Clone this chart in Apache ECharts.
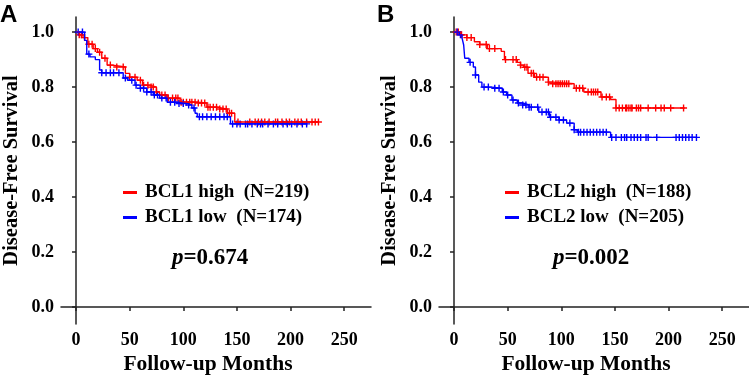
<!DOCTYPE html>
<html>
<head>
<meta charset="utf-8">
<script src="https://cdn.jsdelivr.net/npm/echarts@6/dist/echarts.min.js"></script>
<style>
  html, body { margin: 0; padding: 0; background: #fff; }
  #km { width: 749px; height: 377px; }
</style>
</head>
<body>
<div id="km"></div>
<script>
  // KM step points [month, survival after the drop]
  var bcl1High = [[0, 1], [3, 0.99], [6.5, 0.98], [11, 0.956], [16, 0.94], [20, 0.927], [24, 0.905], [29, 0.88], [34, 0.873],
    [46, 0.85], [50, 0.836], [57, 0.825], [62, 0.807], [69, 0.8], [75, 0.782], [78, 0.771], [85, 0.76], [97, 0.745],
    [113, 0.742], [122, 0.727], [132, 0.72], [141, 0.705], [148, 0.673], [226, 0.673]];
  var bcl1Low = [[0, 1], [8, 0.97], [10, 0.92], [13, 0.91], [18, 0.9], [22, 0.862], [24, 0.852], [44, 0.833], [48, 0.825],
    [55, 0.807], [60, 0.796], [66, 0.782], [72, 0.771], [78, 0.76], [85, 0.745], [94, 0.74], [104, 0.735], [108, 0.724],
    [111, 0.705], [113, 0.692], [144, 0.666], [215, 0.666]];
  var bcl2High = [[0, 1], [6, 0.99], [12, 0.98], [19, 0.965], [24, 0.955], [31, 0.94], [44, 0.93], [47, 0.9], [59, 0.89],
    [62, 0.88], [65, 0.872], [69, 0.85], [75, 0.836], [88, 0.818], [92, 0.812], [112, 0.796], [121, 0.782], [137, 0.764],
    [146, 0.755], [151, 0.724], [215, 0.724]];
  var bcl2Low = [[0, 1], [5, 0.99], [7.5, 0.978], [9, 0.953], [10, 0.905], [14, 0.89], [18, 0.873], [20, 0.844], [23, 0.818],
    [26, 0.8], [35, 0.796], [45, 0.782], [49, 0.771], [54, 0.753], [59, 0.742], [64, 0.735], [70, 0.727], [79, 0.709],
    [89, 0.69], [98, 0.68], [105, 0.669], [112, 0.645], [115, 0.636], [146, 0.617], [226, 0.617]];

  // censoring times (months)
  var bcl1HighCens = [3, 5, 8, 12, 15, 18, 22, 27, 32, 38, 44, 50, 55, 60, 63, 67, 70, 72, 75, 80, 83, 86, 90, 93, 95, 98, 100,
    103, 106, 108, 111, 114, 117, 120, 123, 125, 128, 131, 134, 137, 140, 143, 145, 151, 162, 167, 170, 173, 176, 180, 186,
    188, 192, 196, 199, 204, 207, 210, 215, 220, 223, 226];
  var bcl1LowCens = [2, 6, 12, 24, 28, 32, 35, 40, 46, 52, 56, 60, 63, 66, 70, 73, 76, 80, 84, 88, 92, 96, 100, 105, 110, 115,
    118, 122, 126, 130, 134, 138, 141, 146, 150, 153, 158, 160, 164, 169, 172, 174, 179, 184, 188, 193, 197, 201, 206, 211, 215];
  var bcl2HighCens = [2, 4, 7, 12, 16, 24, 30, 33, 38, 48, 55, 58, 62, 66, 68, 72, 74, 77, 80, 83, 88, 92, 95, 97, 99, 101, 103,
    105, 107, 114, 117, 120, 125, 128, 130, 132, 134, 138, 142, 145, 151, 154, 157, 160, 161, 163, 165, 166, 170, 172, 174,
    181, 188, 193, 196, 202, 214];
  var bcl2LowCens = [3, 6, 15, 20, 28, 32, 38, 42, 46, 50, 55, 60, 64, 67, 70, 72, 78, 82, 86, 88, 90, 95, 98, 102, 108, 112,
    116, 118, 121, 124, 127, 130, 133, 136, 139, 142, 147, 151, 156, 159, 161, 165, 168, 171, 174, 179, 181, 189, 207, 210,
    213, 216, 219, 222, 226];

  var xTicks = [0, 50, 100, 150, 200, 250];
  var yTicks = [0, 0.2, 0.4, 0.6, 0.8, 1.0];
  var groupNames = [['BCL1 high  (N=219)', 'BCL1 low  (N=174)'], ['BCL2 high  (N=188)', 'BCL2 low  (N=205)']];
  var pValues = ['0.674', '0.002'];

  var serif = 'Liberation Serif, Times New Roman, serif';
  var RED = '#ff0000';
  var BLUE = '#0000ff';
  var PLUS = 'path://M2,0h1v2h2v1h-2v2h-1v-2h-2v-1h2z';

  // survival at time t from the step points
  function survAt(steps, t) {
    var s = 1;
    steps.forEach(function (p) {
      if (p[0] <= t) s = p[1];
    });
    return s;
  }

  function lineSeries(name, steps, color, idx) {
    return {
      name: name,
      type: 'line',
      step: 'end',
      xAxisIndex: idx,
      yAxisIndex: idx,
      symbol: 'none',
      data: steps,
      lineStyle: { color: color, width: 1.4 },
      itemStyle: { color: color },
      animation: false
    };
  }

  function censSeries(steps, cens, color, idx) {
    return {
      type: 'scatter',
      xAxisIndex: idx,
      yAxisIndex: idx,
      symbol: PLUS,
      symbolSize: 7,
      data: cens.map(function (t) { return [t, survAt(steps, t)]; }),
      itemStyle: { color: color, opacity: 1 },
      silent: true,
      animation: false
    };
  }

  function xAxis(idx) {
    return {
      gridIndex: idx,
      type: 'value',
      min: -14,
      max: 275,
      name: 'Follow-up Months',
      nameLocation: 'middle',
      nameGap: 29,
      nameTextStyle: { fontFamily: serif, fontWeight: 'bold', fontSize: 21.5, color: '#000', padding: [0, 16, 0, 0] },
      axisLine: { lineStyle: { color: '#222', width: 1.5 } },
      axisTick: { customValues: xTicks, length: 4, lineStyle: { color: '#222', width: 1.5 } },
      axisLabel: { customValues: xTicks, margin: 7, fontFamily: serif, fontWeight: 'bold', fontSize: 18, color: '#000' },
      splitLine: { show: false }
    };
  }

  function yAxis(idx) {
    return {
      gridIndex: idx,
      type: 'value',
      min: -0.062,
      max: 1.055,
      name: 'Disease-Free Survival',
      nameLocation: 'middle',
      nameGap: 39,
      nameTextStyle: { fontFamily: serif, fontWeight: 'bold', fontSize: 20.5, color: '#000' },
      axisLine: { show: true, lineStyle: { color: '#222', width: 1.5 } },
      axisTick: { show: true, customValues: yTicks, length: 4, lineStyle: { color: '#222', width: 1.5 } },
      axisLabel: {
        customValues: yTicks, margin: 7, fontFamily: serif, fontWeight: 'bold', fontSize: 18, color: '#000',
        formatter: function (v) { return v.toFixed(1); }
      },
      splitLine: { show: false }
    };
  }

  function legend(idx, left) {
    return {
      data: groupNames[idx],
      left: left,
      top: 178,
      orient: 'vertical',
      icon: 'rect',
      itemWidth: 14,
      itemHeight: 3,
      itemGap: 6,
      selectedMode: false,
      textStyle: { fontFamily: serif, fontWeight: 'bold', fontSize: 19, color: '#000', padding: [0, 0, 0, 3] }
    };
  }

  function pText(idx, left) {
    return {
      type: 'text',
      left: left,
      top: 247,
      style: {
        text: '{i|p}{n|=' + pValues[idx] + '}',
        rich: {
          i: { fontFamily: serif, fontStyle: 'italic', fontWeight: 'bold', fontSize: 23, fill: '#000' },
          n: { fontFamily: serif, fontWeight: 'bold', fontSize: 23, fill: '#000' }
        }
      }
    };
  }

  var chart = echarts.init(document.getElementById('km'));
  var option = {
    backgroundColor: '#fff',
    animation: false,
    grid: [
      { left: 61, top: 17, width: 310, height: 307, outerBoundsMode: 'none' },
      { left: 439, top: 17, width: 310, height: 307, outerBoundsMode: 'none' }
    ],
    xAxis: [xAxis(0), xAxis(1)],
    yAxis: [yAxis(0), yAxis(1)],
    legend: [legend(0, 118), legend(1, 500)],
    graphic: [
      { type: 'text', left: 0, top: 3, style: { text: 'A', fontFamily: 'Liberation Sans, Arial, sans-serif', fontWeight: 'bold', fontSize: 24, fill: '#000' } },
      { type: 'text', left: 377, top: 3, style: { text: 'B', fontFamily: 'Liberation Sans, Arial, sans-serif', fontWeight: 'bold', fontSize: 24, fill: '#000' } },
      pText(0, 172),
      pText(1, 553)
    ],
    series: [
      lineSeries(groupNames[0][0], bcl1High, RED, 0),
      lineSeries(groupNames[0][1], bcl1Low, BLUE, 0),
      censSeries(bcl1High, bcl1HighCens, RED, 0),
      censSeries(bcl1Low, bcl1LowCens, BLUE, 0),
      lineSeries(groupNames[1][0], bcl2High, RED, 1),
      lineSeries(groupNames[1][1], bcl2Low, BLUE, 1),
      censSeries(bcl2High, bcl2HighCens, RED, 1),
      censSeries(bcl2Low, bcl2LowCens, BLUE, 1)
    ]
  };
  chart.setOption(option);
</script>
</body>
</html>
